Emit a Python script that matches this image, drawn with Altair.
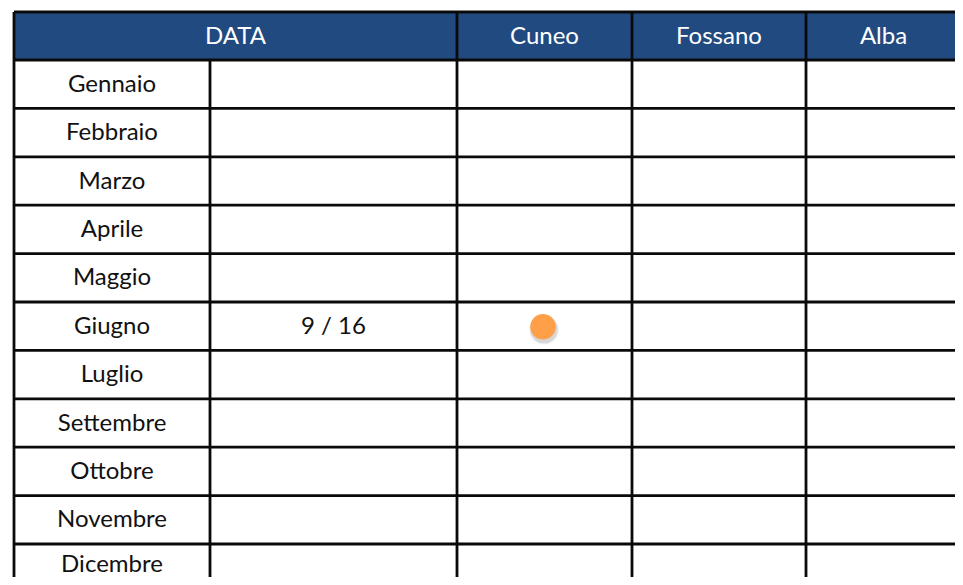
import altair as alt
import pandas as pd

# ---- data ----
months = ["Gennaio", "Febbraio", "Marzo", "Aprile", "Maggio", "Giugno",
          "Luglio", "Settembre", "Ottobre", "Novembre", "Dicembre"]
headers = ["DATA", "Cuneo", "Fossano", "Alba"]
date_values = {"Giugno": "9 / 16"}
dot_cells = [("Giugno", "Cuneo")]

# ---- layout (page pixels) ----
LEFT, TOP = 14, 12
HEADER_H, ROW_H = 48, 48.4
col_widths = [196, 247, 175, 174, 155]   # month, date, Cuneo, Fossano, Alba
edges = [LEFT]
for w in col_widths:
    edges.append(edges[-1] + w)
RIGHT = edges[-1]
BOTTOM = TOP + HEADER_H + ROW_H * len(months)
header_span = {"DATA": (0, 2), "Cuneo": (2, 3), "Fossano": (3, 4), "Alba": (4, 5)}
city_col = {"Cuneo": 2, "Fossano": 3, "Alba": 4}

HEAD_BG = "#204A80"
LINE = "#0a0a0a"
FONT = "Lato"
W, H = 947, 569
TEXT_MAX_Y = 8 + H - 13   # keep the last, cropped row's label fully visible

xs = alt.Scale(domain=[8, 8 + W], nice=False, zero=False)
ys = alt.Scale(domain=[8, 8 + H], nice=False, zero=False, reverse=True)

def row_center(i):
    return TOP + HEADER_H + (i + 0.5) * ROW_H

hdr = []
for h in headers:
    a, b = header_span[h]
    hdr.append({"h": h, "x": edges[a], "x2": edges[b], "y": TOP, "y2": TOP + HEADER_H,
                "cx": (edges[a] + edges[b]) / 2, "cy": TOP + HEADER_H / 2})
hdr_df = pd.DataFrame(hdr)

head_rect = alt.Chart(hdr_df).mark_rect(color=HEAD_BG, clip=True).encode(
    x=alt.X("x:Q", scale=xs, axis=None), x2="x2:Q",
    y=alt.Y("y:Q", scale=ys, axis=None), y2="y2:Q")
head_text = alt.Chart(hdr_df).mark_text(color="white", font=FONT, fontSize=24,
                                        baseline="middle", dy=1, clip=True).encode(
    x=alt.X("cx:Q", scale=xs, axis=None),
    y=alt.Y("cy:Q", scale=ys, axis=None), text="h:N")

cells = []
for i, m in enumerate(months):
    cy = min(row_center(i), TEXT_MAX_Y)
    cells.append({"t": m, "cx": (edges[0] + edges[1]) / 2, "cy": cy})
    if m in date_values:
        cells.append({"t": date_values[m], "cx": (edges[1] + edges[2]) / 2, "cy": cy})
cell_df = pd.DataFrame(cells)
cell_text = alt.Chart(cell_df).mark_text(color="#111111", font=FONT, fontSize=24,
                                         baseline="middle", dy=0.5, clip=True).encode(
    x=alt.X("cx:Q", scale=xs, axis=None),
    y=alt.Y("cy:Q", scale=ys, axis=None), text="t:N")

hl = [{"x": LEFT, "x2": RIGHT, "y": TOP}]
for i in range(len(months) + 1):
    hl.append({"x": LEFT, "x2": RIGHT, "y": TOP + HEADER_H + i * ROW_H})
hl_df = pd.DataFrame(hl)
hlines = alt.Chart(hl_df).mark_rule(color=LINE, strokeWidth=2.8, clip=True).encode(
    x=alt.X("x:Q", scale=xs, axis=None), x2="x2:Q",
    y=alt.Y("y:Q", scale=ys, axis=None))

vl = []
for k, e in enumerate(edges):
    y0 = TOP + HEADER_H if k == 1 else TOP
    vl.append({"x": e, "y": y0, "y2": BOTTOM})
vl_df = pd.DataFrame(vl)
vlines = alt.Chart(vl_df).mark_rule(color=LINE, strokeWidth=2.8, clip=True).encode(
    x=alt.X("x:Q", scale=xs, axis=None),
    y=alt.Y("y:Q", scale=ys, axis=None), y2="y2:Q")

dots = []
for m, c in dot_cells:
    i = months.index(m)
    k = city_col[c]
    dots.append({"cx": (edges[k] + edges[k + 1]) / 2 - 1.5, "cy": row_center(i) + 0.5})
dot_df = pd.DataFrame(dots)

shadow_layers = []
for sz, op in [(900, 0.05), (800, 0.07), (720, 0.09)]:
    shadow_layers.append(
        alt.Chart(dot_df).transform_calculate(sx="datum.cx + 1", sy="datum.cy + 3")
        .mark_circle(color="#333333", opacity=op, size=sz).encode(
            x=alt.X("sx:Q", scale=xs, axis=None),
            y=alt.Y("sy:Q", scale=ys, axis=None)))
dot = alt.Chart(dot_df).mark_circle(color="#FF9F47", opacity=1, size=650).encode(
    x=alt.X("cx:Q", scale=xs, axis=None),
    y=alt.Y("cy:Q", scale=ys, axis=None))

chart = alt.layer(head_rect, hlines, vlines, head_text, cell_text,
                  *shadow_layers, dot).properties(
    width=W, height=H, autosize=alt.AutoSizeParams(type="none"), padding=0,
    background="white"
).configure_view(stroke=None)

chart.save("out.html", embed_options={"renderer": "svg", "actions": False})
